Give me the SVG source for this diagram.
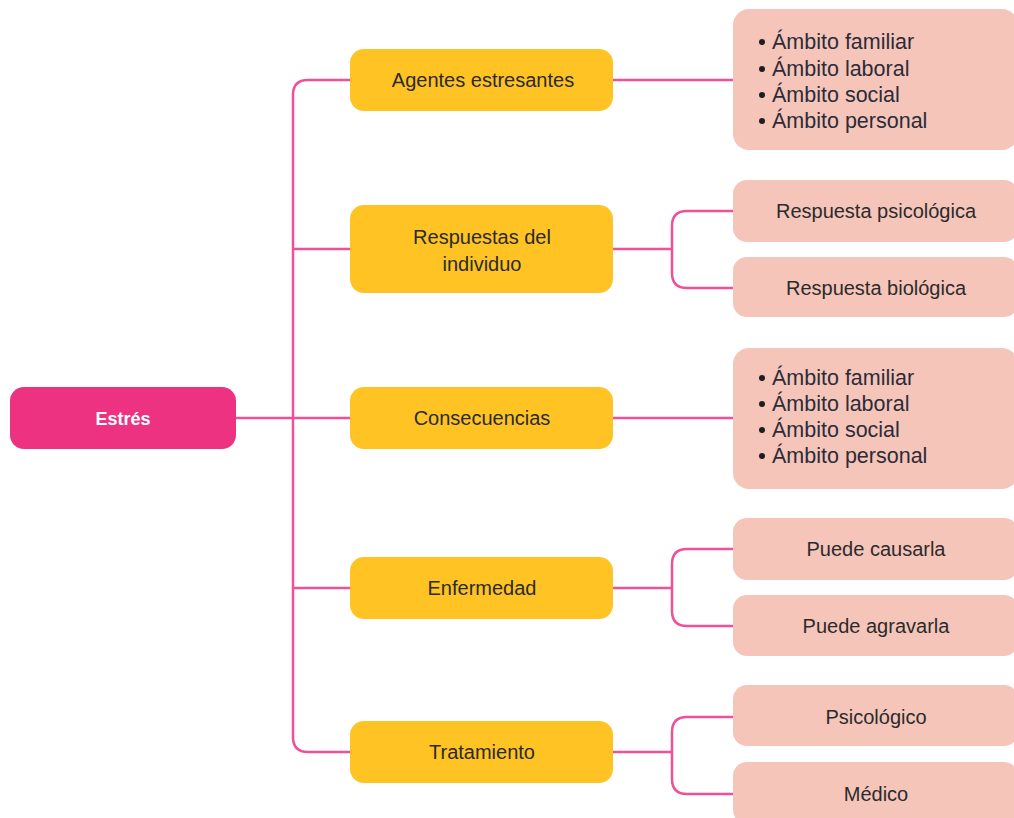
<svg xmlns="http://www.w3.org/2000/svg" width="1014" height="818" viewBox="0 0 1014 818">
  <style>
    .root { fill: #EC3281; }
    .mid { fill: #FFC323; }
    .leaf { fill: #F6C5BA; }
    .t { font-family: "Liberation Sans", Arial, sans-serif; font-size: 20px; fill: #2b2b2b; text-anchor: middle; }
    .tl { font-family: "Liberation Sans", Arial, sans-serif; font-size: 21.5px; fill: #2c2c38; }
    .tw { font-family: "Liberation Sans", Arial, sans-serif; font-size: 18px; font-weight: bold; fill: #ffffff; text-anchor: middle; }
    .link { fill: none; stroke: #EE5198; stroke-width: 2.5; }
  </style>

  <!-- connectors -->
  <g id="connectors">
    <!-- main trunk -->
    <path class="link" d="M236 418 H350"/>
    <path class="link" d="M350 80 H308 Q293 80 293 95 V737 Q293 752 308 752 H350"/>
    <path class="link" d="M293 249 H350"/>
    <path class="link" d="M293 588 H350"/>
    <!-- second level -->
    <path class="link" d="M613 80 H733"/>
    <path class="link" d="M613 418 H733"/>
    <path class="link" d="M613 249 H672"/>
    <path class="link" d="M733 211 H687 Q672 211 672 226 V273 Q672 288 687 288 H733"/>
    <path class="link" d="M613 588 H672"/>
    <path class="link" d="M733 549 H687 Q672 549 672 564 V611 Q672 626 687 626 H733"/>
    <path class="link" d="M613 752 H672"/>
    <path class="link" d="M733 717 H687 Q672 717 672 732 V779 Q672 794 687 794 H733"/>
  </g>

  <!-- root -->
  <g id="estres">
    <rect class="root" x="10" y="387" width="226" height="62" rx="14"/>
    <text class="tw" x="123" y="425">Estrés</text>
  </g>

  <!-- middle level -->
  <g id="agentes">
    <rect class="mid" x="350" y="49" width="263" height="62" rx="14"/>
    <text class="t" x="483" y="87">Agentes estresantes</text>
  </g>
  <g id="respuestas">
    <rect class="mid" x="350" y="205" width="263" height="88" rx="14"/>
    <text class="t" x="482" y="244">Respuestas del</text>
    <text class="t" x="482" y="271">individuo</text>
  </g>
  <g id="consecuencias">
    <rect class="mid" x="350" y="387" width="263" height="62" rx="14"/>
    <text class="t" x="482" y="425">Consecuencias</text>
  </g>
  <g id="enfermedad">
    <rect class="mid" x="350" y="557" width="263" height="62" rx="14"/>
    <text class="t" x="482" y="595">Enfermedad</text>
  </g>
  <g id="tratamiento">
    <rect class="mid" x="350" y="721" width="263" height="62" rx="14"/>
    <text class="t" x="482" y="759">Tratamiento</text>
  </g>

  <!-- leaves -->
  <g id="ambitos-agentes">
    <rect class="leaf" x="733" y="9" width="285" height="141" rx="16"/>
    <circle cx="762" cy="42" r="3" fill="#1e1e1e"/>
    <circle cx="762" cy="69" r="3" fill="#1e1e1e"/>
    <circle cx="762" cy="95" r="3" fill="#1e1e1e"/>
    <circle cx="762" cy="121" r="3" fill="#1e1e1e"/>
    <text class="tl" x="772" y="49">Ámbito familiar</text>
    <text class="tl" x="772" y="76">Ámbito laboral</text>
    <text class="tl" x="772" y="102">Ámbito social</text>
    <text class="tl" x="772" y="128">Ámbito personal</text>
  </g>
  <g id="resp-psicologica">
    <rect class="leaf" x="733" y="180" width="285" height="62" rx="14"/>
    <text class="t" x="876" y="218">Respuesta psicológica</text>
  </g>
  <g id="resp-biologica">
    <rect class="leaf" x="733" y="257" width="285" height="60" rx="14"/>
    <text class="t" x="876" y="295">Respuesta biológica</text>
  </g>
  <g id="ambitos-consecuencias">
    <rect class="leaf" x="733" y="348" width="285" height="141" rx="16"/>
    <circle cx="762" cy="378" r="3" fill="#1e1e1e"/>
    <circle cx="762" cy="404" r="3" fill="#1e1e1e"/>
    <circle cx="762" cy="430" r="3" fill="#1e1e1e"/>
    <circle cx="762" cy="456" r="3" fill="#1e1e1e"/>
    <text class="tl" x="772" y="385">Ámbito familiar</text>
    <text class="tl" x="772" y="411">Ámbito laboral</text>
    <text class="tl" x="772" y="437">Ámbito social</text>
    <text class="tl" x="772" y="463">Ámbito personal</text>
  </g>
  <g id="puede-causarla">
    <rect class="leaf" x="733" y="518" width="285" height="62" rx="14"/>
    <text class="t" x="876" y="556">Puede causarla</text>
  </g>
  <g id="puede-agravarla">
    <rect class="leaf" x="733" y="595" width="285" height="61" rx="14"/>
    <text class="t" x="876" y="633">Puede agravarla</text>
  </g>
  <g id="psicologico">
    <rect class="leaf" x="733" y="685" width="285" height="61" rx="14"/>
    <text class="t" x="876" y="724">Psicológico</text>
  </g>
  <g id="medico">
    <rect class="leaf" x="733" y="762" width="285" height="62" rx="14"/>
    <text class="t" x="876" y="801">Médico</text>
  </g>
</svg>
